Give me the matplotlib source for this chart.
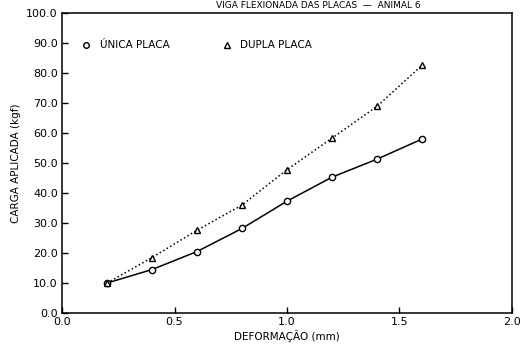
import matplotlib
matplotlib.use("Agg")
import matplotlib.pyplot as plt
from matplotlib.lines import Line2D

# === 데이터 ===
deformacao = [0.2, 0.4, 0.6, 0.8, 1.0, 1.2, 1.4, 1.6]
unica_placa = [10.0, 14.5, 20.5, 28.2, 37.3, 45.3, 51.3, 58.0]
dupla_placa = [10.0, 18.5, 27.6, 36.0, 47.8, 58.3, 68.9, 82.6]

xticks = [0.0, 0.5, 1.0, 1.5, 2.0]
yticks = [0, 10, 20, 30, 40, 50, 60, 70, 80, 90, 100]

plt.rcParams["font.family"] = ["DejaVu Sans"]

fig = plt.figure(figsize=(5.3, 3.64), dpi=100)
ax = fig.add_axes([0.117, 0.140, 0.849, 0.824])

ax.plot(deformacao, unica_placa, "-", color="black", linewidth=1.1,
        marker="o", markersize=4.5, markerfacecolor="white", markeredgewidth=1.0)
ax.plot(deformacao, dupla_placa, ":", color="black", linewidth=1.1,
        marker="^", markersize=4.5, markerfacecolor="white", markeredgewidth=1.0)

ax.set_xlim(0, 2.0)
ax.set_ylim(0, 100)
ax.set_xticks(xticks)
ax.set_yticks(yticks)
ax.set_xticklabels([f"{v:.1f}" for v in xticks], fontsize=8)
ax.set_yticklabels([f"{v:.1f}" for v in yticks], fontsize=8)
ax.tick_params(direction="in", length=4, width=1, pad=3)
for s in ax.spines.values():
    s.set_linewidth(1.1)

ax.set_xlabel("DEFORMAÇÃO (mm)", fontsize=7.5, labelpad=2)
ax.set_ylabel("CARGA APLICADA (kgf)", fontsize=7.5, labelpad=4)

# 범례 (마커만)
handles = [
    Line2D([], [], marker="o", ls="none", color="black", mfc="white", markersize=4),
    Line2D([], [], marker="^", ls="none", color="black", mfc="white", markersize=4),
]
ax.legend(handles, ["ÚNICA PLACA", "DUPLA PLACA"], loc="upper left",
          ncol=2, frameon=False, fontsize=7.5, handletextpad=0.3,
          columnspacing=4.5, bbox_to_anchor=(0.01, 0.94))

# 제목 (원본에서는 위쪽이 잘림)
fig.text(0.60, 0.998, "VIGA FLEXIONADA DAS PLACAS  —  ANIMAL 6",
         ha="center", va="top", fontsize=6.5)

fig.savefig("out.png", dpi=100)
